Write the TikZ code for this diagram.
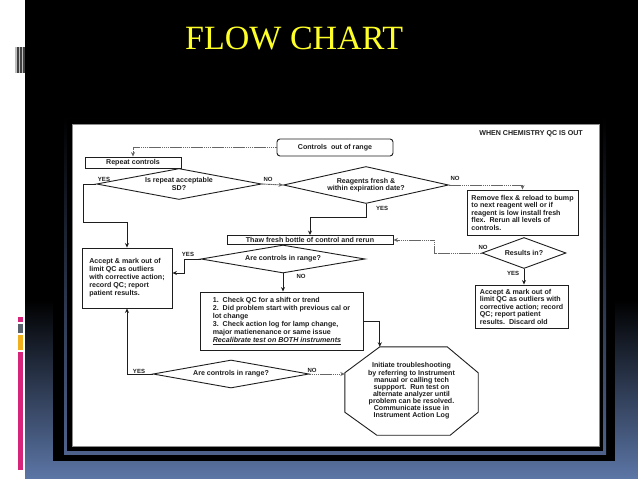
\documentclass[tikz,border=0pt]{standalone}
\usepackage{fontspec}
\setmainfont{Liberation Serif}
\newfontfamily\chartsans{Liberation Sans}
\usetikzlibrary{arrows.meta,shapes.geometric,calc}
\definecolor{slideblue}{RGB}{92,118,166}
\definecolor{framebl}{RGB}{78,98,140}
\definecolor{titleyel}{RGB}{255,255,40}
\definecolor{pinkbar}{RGB}{214,36,122}
\definecolor{graysq}{RGB}{88,96,108}
\definecolor{yelsq}{RGB}{240,176,30}
\definecolor{ink}{RGB}{30,30,30}
\tikzset{
  chart/.style={font=\chartsans\bfseries\fontsize{7.1}{7.5}\selectfont, text=ink},
  box/.style={chart, draw=ink, line width=0.9pt, fill=white, inner sep=0pt, align=left},
  cbox/.style={chart, draw=ink, line width=0.9pt, fill=white, inner sep=0pt, align=center},
  dia/.style={chart, draw=ink, line width=0.9pt, diamond, inner sep=0pt, align=center, aspect=5},
  lbl/.style={font=\chartsans\bfseries\fontsize{6}{7}\selectfont, text=ink, inner sep=0pt},
  arr/.style={draw=ink, line width=0.9pt, -{Stealth[length=4.5pt,width=4pt]}},
  grain/.style={draw=black!60, dash pattern=on 1.6pt off 0.5pt},
  edge/.style={draw=ink, line width=0.9pt},
}
\begin{document}
\begin{tikzpicture}[x=1pt,y=-1pt]
\useasboundingbox (0,0) rectangle (638,479);
% slide background
\fill[white] (0,0) rectangle (638,479);
\fill[black] (25,0) rectangle (638,479);
\shade[top color=black, bottom color=slideblue] (25,300) rectangle (638,479);
% left decorations
\fill[black!25] (15,47) rectangle (25,73);
\fill[black!75] (17,47) rectangle (18.5,73);
\fill[black!75] (20,47) rectangle (21.5,73);
\fill[black!75] (23,47) rectangle (24.5,73);
\fill[pinkbar] (18,317) rectangle (23,322);
\fill[graysq] (18,324) rectangle (23,333);
\fill[yelsq] (18,335) rectangle (23,350);
\fill[pinkbar] (18,352) rectangle (23,470);
% title
\node[text=titleyel, font=\fontsize{34}{36}\selectfont, anchor=base west, inner sep=0pt] (title) at (185,49) {FLOW CHART};
% frame
\fill[black] (53,100) rectangle (615,461);
\shade[top color=black, bottom color=framebl] (64,116) rectangle (606,454);
\fill[black] (67,119) rectangle (603,451);
\fill[white] (72,124) rectangle (599,446);
\draw[black!45, line width=0.8pt] (72,124) rectangle (599,446);

% header
\node[chart, anchor=east, inner sep=0pt] (hdr) at (583,134) {WHEN CHEMISTRY QC IS OUT};

% nodes
\node[cbox, rounded corners=3pt, minimum width=116pt, minimum height=17pt] (ctrl) at (335,147.5) {Controls\ \ out of range};
\node[cbox, minimum width=96pt, minimum height=11pt] (rep) at (133,162.5) {Repeat controls};
\node[dia, minimum width=165pt, minimum height=31pt] (d1) at (179,184) {Is repeat acceptable\\SD?};
\node[dia, minimum width=165pt, minimum height=37pt] (d2) at (366,185) {Reagents fresh \&\\within expiration date?};
\node[box, minimum width=111pt, minimum height=45pt] (rem) at (522.5,212.5) {Remove flex \& reload to bump\\to next reagent well or if\\reagent is low install fresh\\flex.\ \ Rerun all levels of\\controls.};
\node[cbox, minimum width=166pt, minimum height=9pt] (thaw) at (310,240) {Thaw fresh bottle of control and rerun};
\node[dia, minimum width=164pt, minimum height=28pt] (d3) at (283,259) {Are controls in range?};
\node[dia, minimum width=84pt, minimum height=31pt] (res) at (524,253) {Results in?};
\node[box, minimum width=90pt, minimum height=60pt, font=\chartsans\bfseries\fontsize{7.1}{8}\selectfont] (acc1) at (127,278) {Accept \& mark out of\\limit QC as outliers\\with corrective action;\\record QC; report\\patient results.};
\node[box, minimum width=93pt, minimum height=43pt] (acc2) at (521.5,306.5) {Accept \& mark out of\\limit QC as outliers with\\corrective action; record\\QC; report patient\\results.\ \ Discard old};
\node[box, minimum width=163pt, minimum height=58pt, font=\chartsans\bfseries\fontsize{7.1}{8}\selectfont] (b3) at (281.5,321) {1.\ \ Check QC for a shift or trend\\2.\ \ Did problem start with previous cal or\\lot change\\3.\ \ Check action log for lamp change,\\major matienenance or same issue\\\underline{\itshape Recalibrate test on BOTH instruments}};
\node[dia, minimum width=156pt, minimum height=28pt] (d4) at (231,374) {Are controls in range?};
\node[chart, inner sep=0pt, align=center, minimum width=133pt, minimum height=88pt, font=\chartsans\bfseries\fontsize{7.1}{7.1}\selectfont] (oct) at (411.5,391) {Initiate troubleshooting\\by referring to Instrument\\manual or calling tech\\suppport.\ \ Run test on\\alternate analyzer until\\problem can be resolved.\\Communicate issue in\\Instrument Action Log};
\draw[edge] ($(oct.north west)+(35,0)$) -- ($(oct.north east)+(-31,0)$) -- ($(oct.north east)+(0,26)$) -- ($(oct.south east)+(0,-23)$) -- ($(oct.south east)+(-28,0)$) -- ($(oct.south west)+(32,0)$) -- ($(oct.south west)+(0,-23)$) -- ($(oct.north west)+(0,26)$) -- cycle;
\coordinate (octtl) at ($(oct.north west)+(35,0)$);

% connectors
\draw[arr,grain] (ctrl.west) -| (rep.north);
\draw[arr] (d1.west) -- ++(-13,0) |- ($(acc1.north)+(0,-25)$) -- (acc1.north);
\draw[arr,grain] (d1.east) -- (d2.west);
\draw[arr,grain] (d2.east) -| (rem.north);
\draw[arr] (d2.south) |- ($(thaw.north)+(0,-18)$) -- (thaw.north);
\draw[arr,grain] (res.west) -- ++(-47,0) |- (thaw.east);
\draw[arr] (res.south) -- (res.south |- acc2.north);
\draw[arr] (d3.west) -- ++(-16,0) |- ($(acc1.east)+(0,-5)$);
\draw[arr] (d3.south) -- (d3.south |- b3.north);
\draw[arr] (b3.east) -| (octtl);
\draw[arr] (d4.west) -| (acc1.south);
\draw[arr,grain] (d4.east) -- (d4.east -| oct.west);

% labels
\node[lbl] (yes1) at (104,179) {YES};
\node[lbl] (no1) at (268,179) {NO};
\node[lbl] (no2) at (455,178) {NO};
\node[lbl, anchor=west] (yes2) at (376,208) {YES};
\node[lbl] (yes3) at (188,254) {YES};
\node[lbl] (no3) at (301,276) {NO};
\node[lbl] (no4) at (483,247) {NO};
\node[lbl] (yes4) at (513,273) {YES};
\node[lbl] (yes5) at (139,371) {YES};
\node[lbl] (no5) at (312,370) {NO};
\end{tikzpicture}
\end{document}
